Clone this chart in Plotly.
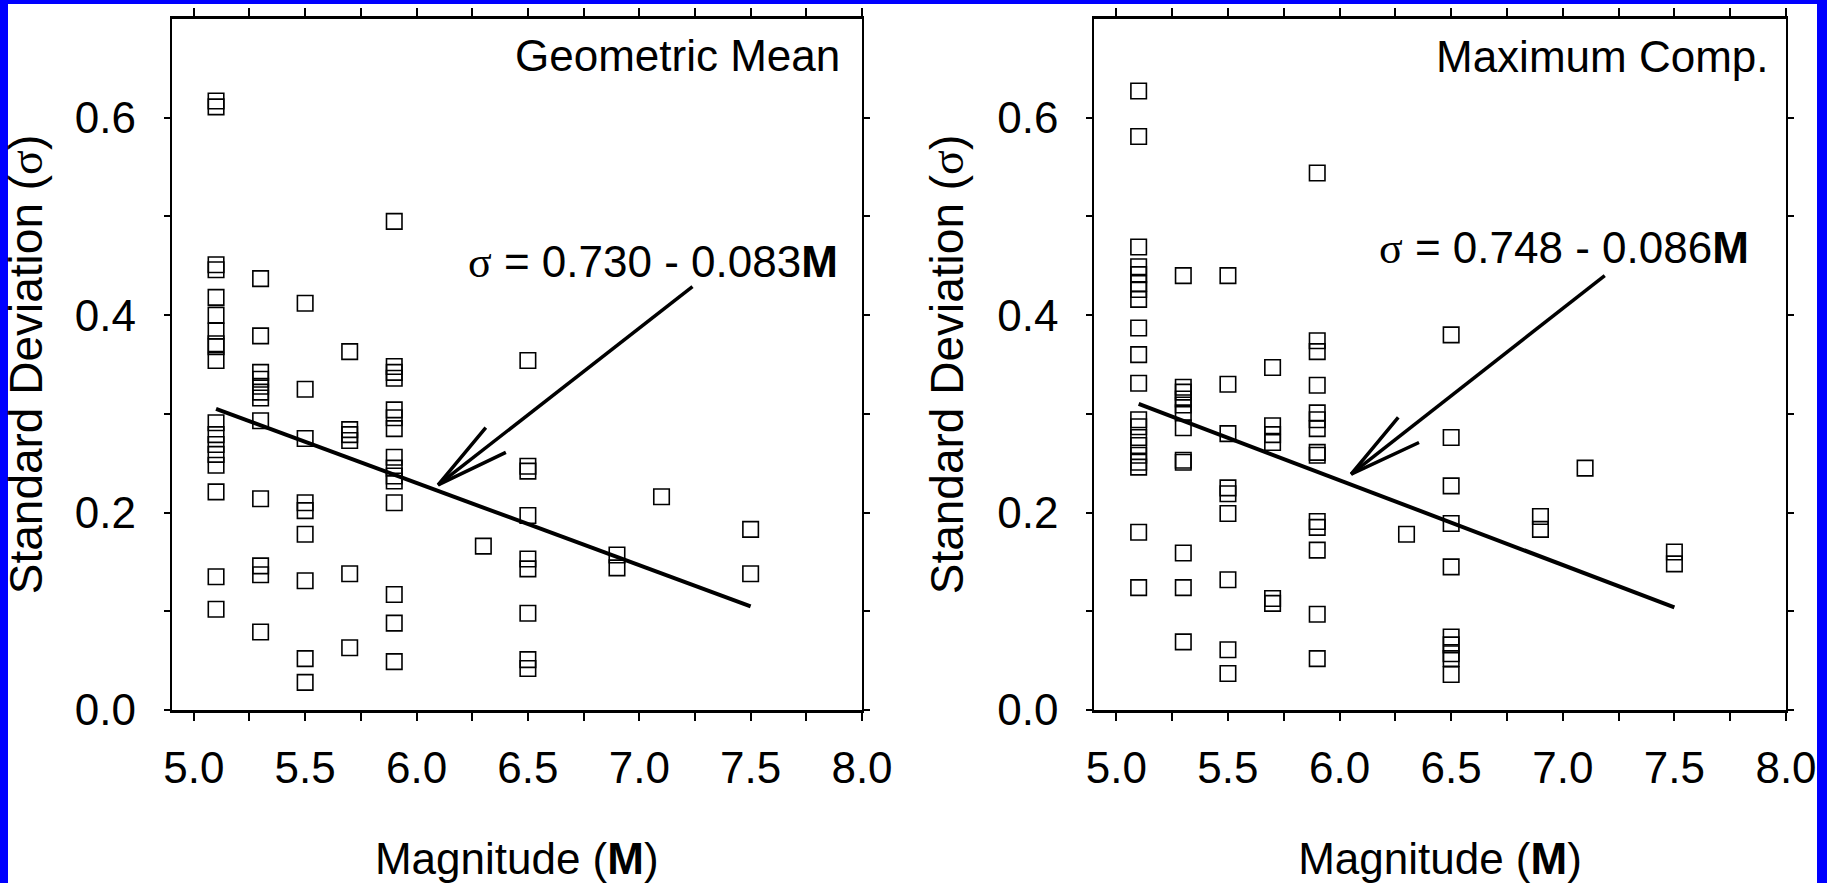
import plotly.graph_objects as go

FONT = "Liberation Sans, Arial, Helvetica, sans-serif"
SIGMA = '<span style="font-family:Liberation Serif, Times New Roman, serif">σ</span>'

# ---------------- data ----------------
magnitudes = [5.1, 5.3, 5.5, 5.7, 5.9, 6.3, 6.5, 6.9, 7.1, 7.5]

# Geometric mean: standard deviation values at each magnitude
gm_sigma = [
    [0.617, 0.611, 0.451, 0.446, 0.418, 0.400, 0.384, 0.371, 0.368, 0.354,
     0.291, 0.279, 0.269, 0.259, 0.248, 0.221, 0.135, 0.102],
    [0.437, 0.379, 0.342, 0.335, 0.328, 0.322, 0.316, 0.293, 0.214, 0.146, 0.137, 0.079],
    [0.412, 0.325, 0.275, 0.210, 0.202, 0.178, 0.131, 0.052, 0.028],
    [0.363, 0.284, 0.279, 0.273, 0.138, 0.063],
    [0.495, 0.348, 0.342, 0.336, 0.304, 0.296, 0.285, 0.256, 0.245, 0.237,
     0.232, 0.210, 0.117, 0.088, 0.049],
    [0.166],
    [0.354, 0.247, 0.242, 0.197, 0.153, 0.143, 0.098, 0.051, 0.042],
    [0.157, 0.144],
    [0.216],
    [0.183, 0.138],
]

# Maximum component: standard deviation values at each magnitude
mc_sigma = [
    [0.627, 0.581, 0.469, 0.449, 0.441, 0.432, 0.426, 0.416, 0.387, 0.360,
     0.331, 0.294, 0.287, 0.276, 0.268, 0.258, 0.251, 0.246, 0.180, 0.124],
    [0.440, 0.327, 0.322, 0.315, 0.309, 0.301, 0.286, 0.253, 0.251, 0.159, 0.124, 0.069],
    [0.440, 0.330, 0.280, 0.225, 0.219, 0.199, 0.132, 0.061, 0.037],
    [0.347, 0.288, 0.279, 0.271, 0.113, 0.108],
    [0.544, 0.374, 0.363, 0.329, 0.301, 0.294, 0.285, 0.261, 0.258, 0.191,
     0.185, 0.162, 0.097, 0.052],
    [0.178],
    [0.380, 0.276, 0.227, 0.189, 0.145, 0.074, 0.066, 0.057, 0.052, 0.036],
    [0.196, 0.183],
    [0.245],
    [0.160, 0.148],
]

# regression lines (end points)
fit_mag = [5.1, 7.5]
gm_fit = [0.305, 0.105]
mc_fit = [0.310, 0.104]

# arrows pointing from equation to the fit line
gm_arrow_shaft_x = [7.239, 6.097]
gm_arrow_shaft_y = [0.429, 0.228]
gm_arrow_head_x = [6.311, 6.097, 6.401]
gm_arrow_head_y = [0.286, 0.228, 0.261]
mc_arrow_shaft_x = [7.188, 6.052]
mc_arrow_shaft_y = [0.440, 0.239]
mc_arrow_head_x = [6.263, 6.052, 6.356]
mc_arrow_head_y = [0.2965, 0.239, 0.271]

x_tickvals = [5.0, 5.25, 5.5, 5.75, 6.0, 6.25, 6.5, 6.75, 7.0, 7.25, 7.5, 7.75, 8.0]
x_ticktext = ["5.0", "", "5.5", "", "6.0", "", "6.5", "", "7.0", "", "7.5", "", "8.0"]
y_tickvals = [0.0, 0.1, 0.2, 0.3, 0.4, 0.5, 0.6]
y_ticktext = ["0.0", "", "0.2", "", "0.4", "", "0.6"]

panel_titles = ["Geometric Mean", "Maximum Comp."]
equations = [SIGMA + " = 0.730 - 0.083<b>M</b>", SIGMA + " = 0.748 - 0.086<b>M</b>"]


def flatten(groups):
    xs, ys = [], []
    for m, vals in zip(magnitudes, groups):
        for v in vals:
            xs.append(m)
            ys.append(v)
    return xs, ys


fig = go.Figure()

panels = [
    ("x", "y", gm_sigma, gm_fit, gm_arrow_shaft_x, gm_arrow_shaft_y, gm_arrow_head_x, gm_arrow_head_y),
    ("x2", "y2", mc_sigma, mc_fit, mc_arrow_shaft_x, mc_arrow_shaft_y, mc_arrow_head_x, mc_arrow_head_y),
]

for xa, ya, groups, fit, sx, sy, hx, hy in panels:
    px, py = flatten(groups)
    fig.add_trace(go.Scatter(
        x=px, y=py, mode="markers", xaxis=xa, yaxis=ya,
        marker=dict(symbol="square-open", size=15.5, color="black",
                    line=dict(color="black", width=1.6)),
        showlegend=False, hoverinfo="skip"))
    fig.add_trace(go.Scatter(
        x=fit_mag, y=fit, mode="lines", xaxis=xa, yaxis=ya,
        line=dict(color="black", width=4), showlegend=False, hoverinfo="skip"))
    fig.add_trace(go.Scatter(
        x=sx, y=sy, mode="lines", xaxis=xa, yaxis=ya,
        line=dict(color="black", width=3.5), showlegend=False, hoverinfo="skip"))
    fig.add_trace(go.Scatter(
        x=hx, y=hy, mode="lines", xaxis=xa, yaxis=ya,
        line=dict(color="black", width=3.5), showlegend=False, hoverinfo="skip"))

W, H = 1827, 883
x_dom_left = [171.5 / W, 862 / W]
x_dom_right = [1094 / W, 1786 / W]
y_dom = [(H - 710) / H, (H - 19) / H]

common_x = dict(range=[4.9, 8.0], tickmode="array", tickvals=x_tickvals, ticktext=x_ticktext,
                showline=True, linecolor="black", linewidth=2.5, mirror="ticks",
                ticks="outside", ticklen=8, tickwidth=1.5, tickcolor="black",
                showgrid=False, zeroline=False, ticklabelstandoff=9,
                tickfont=dict(family=FONT, size=44, color="black"),
                title=dict(text="Magnitude (<b>M</b>)", standoff=59,
                           font=dict(family=FONT, size=44, color="black")))
common_y = dict(range=[0, 0.7], tickmode="array", tickvals=y_tickvals, ticktext=y_ticktext,
                showline=True, linecolor="black", linewidth=1.5, mirror="ticks",
                ticks="outside", ticklen=6, tickwidth=1.5, tickcolor="black",
                showgrid=False, zeroline=False, ticklabelstandoff=19,
                tickfont=dict(family=FONT, size=44, color="black"),
                title=dict(text="Standard Deviation (" + SIGMA + ")", standoff=19,
                           font=dict(family=FONT, size=46, color="black")))

fig.update_layout(
    autosize=True,
    margin=dict(l=0, r=0, t=0, b=0, autoexpand=False),
    paper_bgcolor="white", plot_bgcolor="white",
    font=dict(family=FONT, color="black"),
    xaxis=dict(domain=x_dom_left, anchor="y", **common_x),
    yaxis=dict(domain=y_dom, anchor="x", **common_y),
    xaxis2=dict(domain=x_dom_right, anchor="y2", **common_x),
    yaxis2=dict(domain=y_dom, anchor="x2", **common_y),
    showlegend=False,
)

# panel labels and equations
label_pos = [(7.91, 0.663), (7.933, 0.662)]
eq_pos = [(7.90, 0.454), (7.843, 0.468)]
for i, (xa, ya) in enumerate([("x", "y"), ("x2", "y2")]):
    fig.add_annotation(x=label_pos[i][0], y=label_pos[i][1], xref=xa, yref=ya,
                       text=panel_titles[i], showarrow=False, xanchor="right", yanchor="middle",
                       font=dict(family=FONT, size=44, color="black"))
    fig.add_annotation(x=eq_pos[i][0], y=eq_pos[i][1], xref=xa, yref=ya,
                       text=equations[i], showarrow=False, xanchor="right", yanchor="middle",
                       font=dict(family=FONT, size=44, color="black"))

# blue frame strips
blue = "#0000FF"
for x0, x1, y0, y1 in [(0, 8 / W, 0, 1), (0, 1, (H - 4) / H, 1), (1817 / W, 1, 0, 1)]:
    fig.add_shape(type="rect", xref="paper", yref="paper", x0=x0, x1=x1, y0=y0, y1=y1,
                  fillcolor=blue, line=dict(width=0), layer="above")

fig.write_html(
    "out.html",
    default_width="100vw",
    default_height="100vh",
    post_script="document.body.style.margin='0px';document.body.style.overflow='hidden';",
)
